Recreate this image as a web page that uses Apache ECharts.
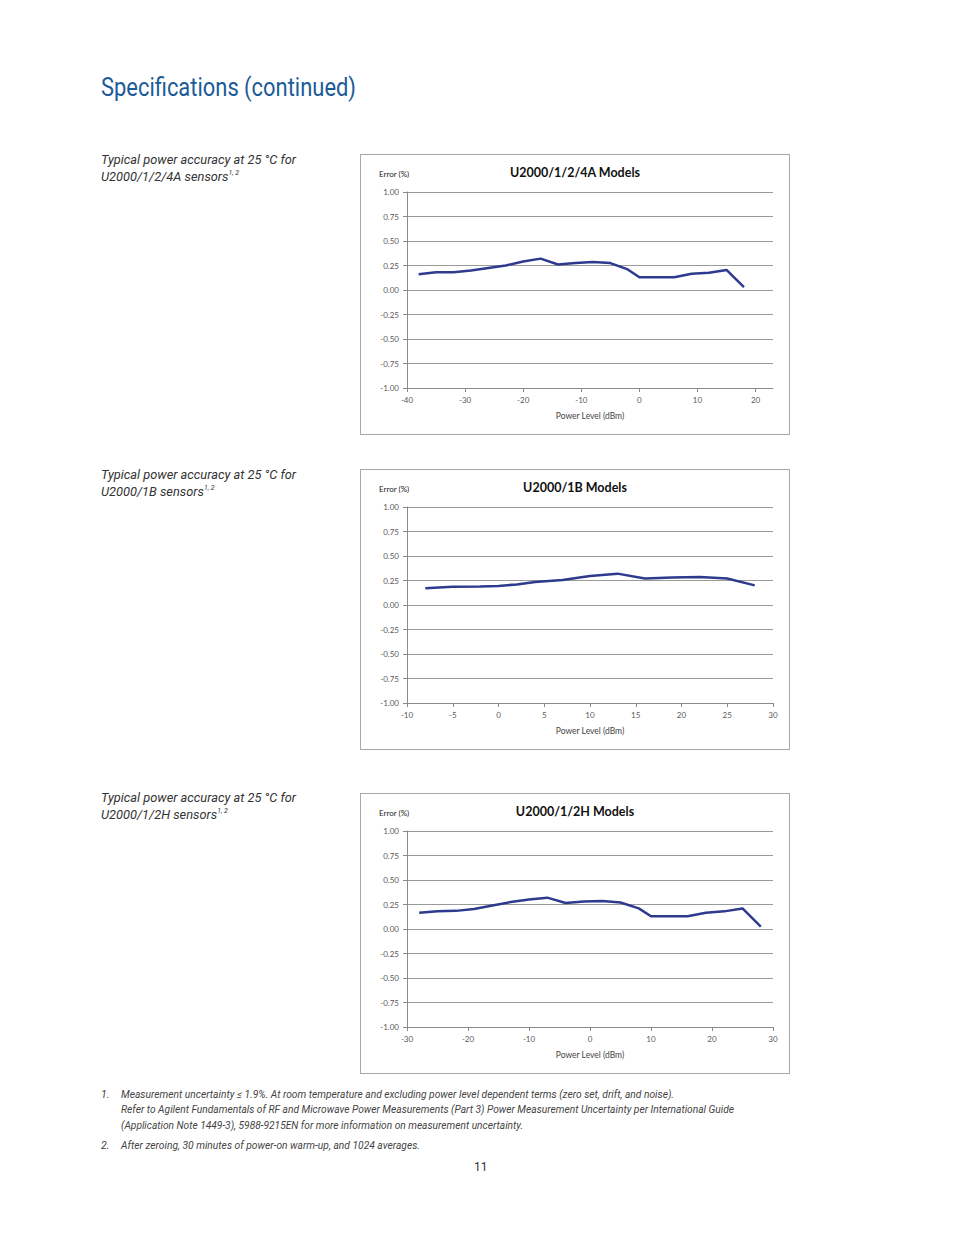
<!DOCTYPE html>
<html>
<head>
<meta charset="utf-8">
<script src="https://cdn.jsdelivr.net/npm/echarts@6/dist/echarts.min.js"></script>
<style>
  html, body { margin: 0; padding: 0; background: #fff; }
  body { width: 954px; height: 1235px; position: relative; overflow: hidden; }
  .narrow { font-family: Roboto, "Liberation Sans", sans-serif; transform-origin: 0 0; display: inline-block; }
  #heading { position: absolute; left: 101px; top: 72px; font-size: 26px; color: #1b5b98; white-space: nowrap; }
  .cap { position: absolute; left: 101px; font-size: 13px; font-style: italic; color: #333; line-height: 17px; white-space: nowrap; }
  .cap sup { font-size: 7px; vertical-align: 6px; line-height: 0; }
  .chartbox { position: absolute; left: 360px; width: 428px; height: 279px; border: 1px solid #a8a8a8; }
  .fn { position: absolute; font-size: 10.5px; font-style: italic; color: #444; white-space: nowrap; }
  #page { position: absolute; left: 474px; top: 1160px; font-size: 12px; color: #333; }
</style>
</head>
<body>
<div id="heading" class="narrow" data-w="255">Specifications (continued)</div>

<div class="cap narrow" style="top:151px;" data-w="195">Typical power accuracy at 25 °C for<br>U2000/1/2/4A sensors<sup>1, 2</sup></div>
<div class="cap narrow" style="top:466px;" data-w="195">Typical power accuracy at 25 °C for<br>U2000/1B sensors<sup>1, 2</sup></div>
<div class="cap narrow" style="top:789px;" data-w="195">Typical power accuracy at 25 °C for<br>U2000/1/2H sensors<sup>1, 2</sup></div>

<div id="c1" class="chartbox" style="top:154px;"></div>
<div id="c2" class="chartbox" style="top:469px;"></div>
<div id="c3" class="chartbox" style="top:793px;"></div>

<div class="fn narrow" style="left:101px; top:1088px;">1.</div>
<div class="fn narrow" style="left:121px; top:1088px;" data-w="553">Measurement uncertainty ≤ 1.9%. At room temperature and excluding power level dependent terms (zero set, drift, and noise).</div>
<div class="fn narrow" style="left:121px; top:1103px;" data-w="613">Refer to Agilent Fundamentals of RF and Microwave Power Measurements (Part 3) Power Measurement Uncertainty per International Guide</div>
<div class="fn narrow" style="left:121px; top:1119px;" data-w="402">(Application Note 1449-3), 5988-9215EN for more information on measurement uncertainty.</div>
<div class="fn narrow" style="left:101px; top:1139px;">2.</div>
<div class="fn narrow" style="left:121px; top:1139px;" data-w="299">After zeroing, 30 minutes of power-on warm-up, and 1024 averages.</div>

<div id="page" class="narrow">11</div>

<script>
// ---- Data ----
const titleA = "U2000/1/2/4A Models";
const powerA = [-38, -35, -32, -29, -26, -23, -20, -17, -14, -11, -8, -5, -2, 0, 3, 6, 9, 12, 15, 18];
const errorA = [0.16, 0.18, 0.18, 0.20, 0.225, 0.25, 0.29, 0.32, 0.26, 0.275, 0.285, 0.275, 0.21, 0.13, 0.13, 0.13, 0.165, 0.175, 0.205, 0.03];

const titleB = "U2000/1B Models";
const powerB = [-8, -5, -2, 0, 2, 4, 7, 10, 13, 16, 19, 22, 25, 28];
const errorB = [0.17, 0.185, 0.19, 0.195, 0.21, 0.235, 0.255, 0.295, 0.32, 0.27, 0.28, 0.285, 0.27, 0.20];

const titleH = "U2000/1/2H Models";
const powerH = [-28, -25, -22, -19, -16, -13, -10, -7, -4, -1, 2, 5, 8, 10, 13, 16, 19, 22, 25, 28];
const errorH = [0.165, 0.18, 0.185, 0.205, 0.24, 0.275, 0.30, 0.32, 0.265, 0.28, 0.285, 0.27, 0.21, 0.13, 0.13, 0.13, 0.165, 0.18, 0.21, 0.025];

const yTicks = { min: -1, max: 1, interval: 0.25 };
const xAxisA = { min: -40, max: 23, interval: 10 };
const xAxisB = { min: -10, max: 30, interval: 5 };
const xAxisH = { min: -30, max: 30, interval: 10 };
const yName = "Error (%)";
const xName = "Power Level (dBm)";

// condense page text to the widths of the original narrow typeface
document.querySelectorAll('[data-w]').forEach(el => {
  const w = el.getBoundingClientRect().width;
  const target = parseFloat(el.getAttribute('data-w'));
  if (w > 0) el.style.transform = 'scaleX(' + (target / w) + ')';
});

function makeOption(title, xs, ys, xa) {
  const data = xs.map((x, i) => [x, ys[i]]);
  const labelFont = { fontFamily: "Lato, 'DejaVu Sans', sans-serif", fontSize: 8, color: '#595959' };
  return {
    animation: false,
    backgroundColor: '#fff',
    title: {
      text: title, left: 'center', top: 6,
      textStyle: { fontFamily: "Lato, 'Open Sans', sans-serif", fontSize: 12.5, fontWeight: 'bold', color: '#111' }
    },
    graphic: [{
      type: 'text', left: 18, top: 15,
      style: { text: yName, font: "8px Lato, sans-serif", fill: '#222' }
    }],
    grid: { left: 46, right: 16, top: 37, bottom: 46, containLabel: false },
    xAxis: {
      type: 'value', min: xa.min, max: xa.max, interval: xa.interval,
      name: xName, nameLocation: 'middle', nameGap: 23,
      nameTextStyle: { fontFamily: "Lato, sans-serif", fontSize: 8.5, color: '#444' },
      axisLine: { show: true, onZero: false, lineStyle: { color: '#8a8a8a', width: 1 } },
      axisTick: { show: true, length: 4, lineStyle: { color: '#8a8a8a' } },
      axisLabel: Object.assign({ margin: 8, showMaxLabel: xa.max % xa.interval === 0,
        formatter: v => (Math.abs(v % xa.interval) < 1e-9 ? String(v) : '') }, labelFont),
      splitLine: { show: false }
    },
    yAxis: {
      type: 'value', min: yTicks.min, max: yTicks.max, interval: yTicks.interval,
      axisLine: { show: true, onZero: false, lineStyle: { color: '#8a8a8a', width: 1 } },
      axisTick: { show: true, length: 4, lineStyle: { color: '#8a8a8a' } },
      axisLabel: Object.assign({ margin: 8, formatter: v => v.toFixed(2) }, labelFont),
      splitLine: { show: true, lineStyle: { color: '#9a9a9a', width: 1 } }
    },
    series: [{
      type: 'line', data: data, showSymbol: false, smooth: false,
      lineStyle: { color: '#2e3a8e', width: 2.5 }
    }]
  };
}

const charts = [
  ['c1', titleA, powerA, errorA, xAxisA],
  ['c2', titleB, powerB, errorB, xAxisB],
  ['c3', titleH, powerH, errorH, xAxisH]
];
charts.forEach(([id, t, xs, ys, xa]) => {
  const c = echarts.init(document.getElementById(id), null, { renderer: 'svg' });
  c.setOption(makeOption(t, xs, ys, xa));
});
</script>
</body>
</html>
